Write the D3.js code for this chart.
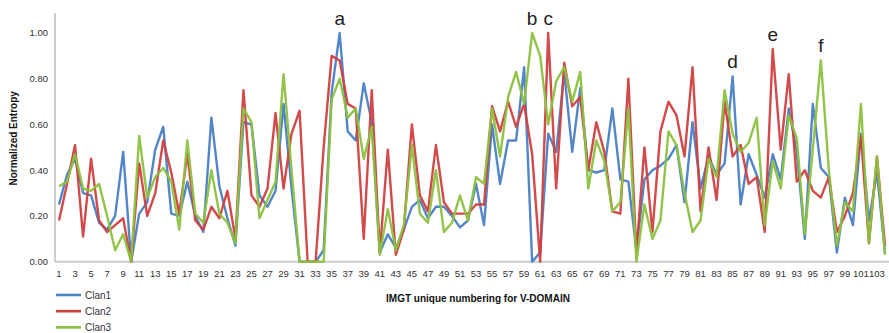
<!DOCTYPE html>
<html>
<head>
<meta charset="utf-8">
<script src="https://cdn.jsdelivr.net/npm/d3@7"></script>
<style>
  html, body { margin: 0; padding: 0; background: #fff; }
  svg { display: block; font-family: "Liberation Sans", Arial, sans-serif; }
  .tick-label { font-size: 9.5px; fill: #333; }
  .axis-title { font-size: 10px; font-weight: bold; fill: #111; }
  .legend-label { font-size: 10px; fill: #333; }
  .peak-label { font-size: 19px; fill: #222; }
</style>
</head>
<body>
<div id="chart"></div>
<script>
// IMGT positions 1..104
const positions = d3.range(1, 105);

const clan1 = [
  0.25, 0.38, 0.45, 0.30, 0.29, 0.17, 0.14, 0.20, 0.48, 0.00,
  0.21, 0.26, 0.49, 0.59, 0.21, 0.20, 0.35, 0.20, 0.13, 0.63,
  0.33, 0.19, 0.07, 0.61, 0.60, 0.29, 0.24, 0.31, 0.69, 0.32,
  0.00, 0.00, 0.00, 0.05, 0.74, 1.00, 0.57, 0.53, 0.78, 0.61,
  0.04, 0.12, 0.06, 0.14, 0.24, 0.27, 0.19, 0.24, 0.24, 0.20,
  0.15, 0.18, 0.34, 0.16, 0.60, 0.34, 0.53, 0.53, 0.85, 0.00,
  0.04, 0.56, 0.48, 0.83, 0.48, 0.76, 0.40, 0.39, 0.40, 0.67,
  0.36, 0.35, 0.05, 0.36, 0.40, 0.42, 0.45, 0.51, 0.26, 0.61,
  0.32, 0.46, 0.38, 0.43, 0.81, 0.25, 0.47, 0.38, 0.28, 0.47,
  0.36, 0.67, 0.48, 0.10, 0.69, 0.41, 0.37, 0.04, 0.28, 0.16,
  0.56, 0.18, 0.39, 0.04,
];

const clan2 = [
  0.18, 0.34, 0.51, 0.11, 0.45, 0.18, 0.13, 0.16, 0.19, 0.00,
  0.43, 0.20, 0.30, 0.53, 0.39, 0.21, 0.47, 0.18, 0.14, 0.24,
  0.19, 0.31, 0.10, 0.75, 0.29, 0.24, 0.32, 0.65, 0.32, 0.56,
  0.66, 0.00, 0.00, 0.50, 0.90, 0.88, 0.69, 0.67, 0.10, 0.75,
  0.04, 0.49, 0.03, 0.14, 0.60, 0.29, 0.22, 0.51, 0.26, 0.21,
  0.21, 0.21, 0.25, 0.25, 0.68, 0.57, 0.70, 0.59, 0.69, 0.47,
  0.00, 1.00, 0.32, 0.87, 0.68, 0.72, 0.40, 0.61, 0.48, 0.22,
  0.21, 0.80, 0.04, 0.50, 0.13, 0.57, 0.70, 0.64, 0.46, 0.85,
  0.22, 0.50, 0.27, 0.70, 0.46, 0.51, 0.34, 0.37, 0.13, 0.93,
  0.49, 0.82, 0.35, 0.40, 0.31, 0.28, 0.37, 0.13, 0.20, 0.30,
  0.55, 0.08, 0.46, 0.07,
];

const clan3 = [
  0.33, 0.35, 0.47, 0.32, 0.31, 0.34, 0.20, 0.05, 0.12, 0.00,
  0.55, 0.28, 0.37, 0.41, 0.35, 0.14, 0.53, 0.21, 0.17, 0.40,
  0.21, 0.17, 0.08, 0.67, 0.61, 0.19, 0.27, 0.35, 0.82, 0.40,
  0.00, 0.00, 0.00, 0.00, 0.71, 0.80, 0.63, 0.67, 0.45, 0.59,
  0.03, 0.23, 0.05, 0.16, 0.51, 0.21, 0.17, 0.40, 0.13, 0.17,
  0.29, 0.18, 0.37, 0.34, 0.67, 0.46, 0.72, 0.83, 0.69, 1.00,
  0.90, 0.60, 0.79, 0.85, 0.70, 0.83, 0.32, 0.53, 0.44, 0.22,
  0.26, 0.67, 0.00, 0.25, 0.10, 0.18, 0.57, 0.51, 0.30, 0.13,
  0.18, 0.45, 0.37, 0.75, 0.56, 0.48, 0.52, 0.63, 0.16, 0.44,
  0.32, 0.64, 0.54, 0.12, 0.49, 0.88, 0.40, 0.07, 0.26, 0.22,
  0.69, 0.08, 0.46, 0.03,
];

const seriesNames = ["Clan1", "Clan2", "Clan3"];
const seriesColors = ["#4a80c6", "#d0403f", "#8cc140"];
const yTicks = [0, 0.2, 0.4, 0.6, 0.8, 1.0];

// peak annotations: letter, position, value it sits over
const peakLetters = ["a", "b", "c", "d", "e", "f"];
const peakPositions = [36, 60, 62, 85, 90, 96];
const peakValues = [1.0, 1.0, 1.0, 0.81, 0.93, 0.88];

const width = 889;
const height = 333;
const margin = { top: 13, right: 0, bottom: 71, left: 55 };

const svg = d3.select("#chart").append("svg").attr("width", width).attr("height", height);

const x = d3.scalePoint().domain(positions).range([margin.left, width - margin.right]).padding(0.5);
const y = d3.scaleLinear().domain([0, 1]).range([height - margin.bottom - 0.3, 33]);

const series = seriesNames.map((name, i) => ({
  name,
  color: seriesColors[i],
  values: [clan1, clan2, clan3][i],
}));

// axis lines
svg
  .append("line")
  .attr("x1", margin.left)
  .attr("x2", margin.left)
  .attr("y1", margin.top)
  .attr("y2", y(0))
  .attr("stroke", "#cccccc")
  .attr("stroke-width", 2);

svg
  .append("line")
  .attr("x1", margin.left)
  .attr("x2", width)
  .attr("y1", y(0))
  .attr("y2", y(0))
  .attr("stroke", "#cccccc")
  .attr("stroke-width", 2);

// y tick labels
svg
  .append("g")
  .selectAll("text")
  .data(yTicks)
  .join("text")
  .attr("class", "tick-label")
  .attr("x", margin.left - 7)
  .attr("y", (d) => y(d))
  .attr("dy", "0.35em")
  .attr("text-anchor", "end")
  .text(d3.format(".2f"));

// x tick labels, every other position
svg
  .append("g")
  .selectAll("text")
  .data(positions.filter((p) => p % 2 === 1))
  .join("text")
  .attr("class", "tick-label")
  .attr("x", (d) => x(d))
  .attr("y", y(0) + 15)
  .attr("text-anchor", "middle")
  .text((d) => d);

// lines
const line = d3
  .line()
  .x((_, i) => x(positions[i]))
  .y((d) => y(d));

svg
  .append("g")
  .selectAll("path")
  .data(series)
  .join("path")
  .attr("d", (d) => line(d.values))
  .attr("fill", "none")
  .attr("stroke", (d) => d.color)
  .attr("stroke-width", 2.4)
  .attr("stroke-linejoin", "round")
  .attr("stroke-opacity", 0.95);

// peak letters
svg
  .append("g")
  .selectAll("text")
  .data(peakLetters)
  .join("text")
  .attr("class", "peak-label")
  .attr("x", (_, i) => x(peakPositions[i]))
  .attr("y", (_, i) => y(peakValues[i]) - 8)
  .attr("text-anchor", "middle")
  .text((d) => d);

// axis titles
svg
  .append("text")
  .attr("class", "axis-title")
  .attr("x", 478)
  .attr("y", 302)
  .attr("text-anchor", "middle")
  .text("IMGT unique numbering for V-DOMAIN");

svg
  .append("text")
  .attr("class", "axis-title")
  .attr("transform", `translate(17, ${(margin.top + y(0)) / 2 + 1}) rotate(-90)`)
  .attr("text-anchor", "middle")
  .text("Normalized Entropy");

// legend
const legend = svg
  .append("g")
  .selectAll("g")
  .data(series)
  .join("g")
  .attr("transform", (_, i) => `translate(56, ${295 + i * 16.2})`);

legend
  .append("line")
  .attr("x1", 0)
  .attr("x2", 25)
  .attr("stroke", (d) => d.color)
  .attr("stroke-width", 2.6);

legend
  .append("text")
  .attr("class", "legend-label")
  .attr("x", 29)
  .attr("dy", "0.35em")
  .text((d) => d.name);
</script>
</body>
</html>
